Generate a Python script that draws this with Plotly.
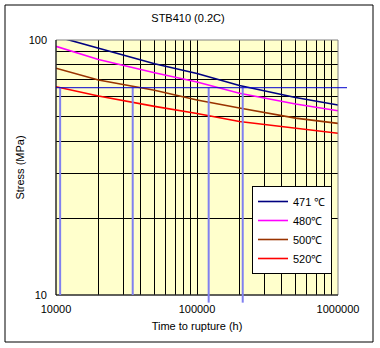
import math
import plotly.graph_objects as go

# ---- data ----
times = [10000, 20000, 50000, 100000, 200000, 500000, 1000000]
s471 = [103.3, 92.6, 80.7, 73.9, 66.3, 59.5, 55.6]
s480 = [94.4, 83.8, 74.4, 68.4, 61.8, 56.1, 52.8]
s500 = [77.5, 69.7, 63.5, 58.2, 54.1, 49.4, 47.1]
s520 = [65.6, 60.3, 54.9, 51.5, 47.9, 45.2, 43.1]
series_names = ["471 ℃", "480℃", "500℃", "520℃"]
series_colors = ["#000080", "#FF00FF", "#993300", "#FF0000"]

ref_stress = 65
cross_times = [10700, 35000, 121000, 211000]
cross_extend = [False, False, True, True]

x_tickvals = [m * 10 ** e for e in (4, 5) for m in range(1, 10)] + [1000000]
x_ticktext = [("%d" % v) if v in (10000, 100000, 1000000) else "" for v in x_tickvals]
y_tickvals = list(range(10, 101, 10))
y_ticktext = [("%d" % v) if v in (10, 100) else "" for v in y_tickvals]

W, H = 380, 348
L, R, T, B = 56, 42, 40, 53
pw, ph = W - L - R, H - T - B

def px_x(p):
    return (p - L) / pw

def px_y(p):
    return (H - B - p) / ph

font = dict(family="Liberation Sans, Arial, sans-serif", size=11, color="black")

fig = go.Figure()
for name, vals, col in zip(series_names, [s471, s480, s500, s520], series_colors):
    fig.add_trace(go.Scatter(x=times, y=vals, mode="lines", name=name,
                             line=dict(color=col, width=1.6)))

shapes = []
# outer frame
shapes.append(dict(type="rect", xref="paper", yref="paper",
                   x0=px_x(5), x1=px_x(373), y0=px_y(342), y1=px_y(5),
                   line=dict(color="black", width=1), layer="below"))
# plot area border (gray) and black axes
shapes.append(dict(type="rect", xref="paper", yref="paper", x0=0, x1=1, y0=0, y1=1,
                   line=dict(color="#808080", width=1)))
shapes.append(dict(type="line", xref="paper", yref="paper", x0=0, x1=0, y0=0, y1=1,
                   line=dict(color="black", width=1)))
shapes.append(dict(type="line", xref="paper", yref="paper", x0=0, x1=1, y0=0, y1=0,
                   line=dict(color="black", width=1)))
# vertical reference lines
ylog_lo, ylog_hi = 1, 2
y_ref_paper = (math.log10(ref_stress) - ylog_lo) / (ylog_hi - ylog_lo)
for t, ext in zip(cross_times, cross_extend):
    shapes.append(dict(type="line", xref="x", yref="paper", x0=t, x1=t,
                       y0=(-0.03 if ext else 0), y1=y_ref_paper,
                       line=dict(color="#8080F0", width=2)))
# horizontal reference line
shapes.append(dict(type="line", xref="paper", yref="y", x0=0, x1=px_x(347),
                   y0=ref_stress, y1=ref_stress, line=dict(color="#0000CC", width=1)))

fig.update_layout(
    width=W, height=H, margin=dict(l=L, r=R, t=T, b=B, autoexpand=False),
    paper_bgcolor="white", plot_bgcolor="#FFFFCC",
    font=font,
    title=dict(text="STB410 (0.2C)", x=188 / W, xref="container", xanchor="center",
               y=1 - 18 / H, yref="container", yanchor="middle", font=font),
    xaxis=dict(type="log", range=[4, 6], tickvals=x_tickvals, ticktext=x_ticktext,
               showgrid=True, gridcolor="black", gridwidth=1, ticks="", showline=False,
               zeroline=False, tickfont=font, ticklabelstandoff=6,
               title=dict(text="Time to rupture (h)", font=font, standoff=8)),
    yaxis=dict(type="log", range=[1, 2], tickvals=y_tickvals, ticktext=y_ticktext,
               showgrid=True, gridcolor="black", gridwidth=1, ticks="", showline=False,
               zeroline=False, tickfont=font, ticklabelstandoff=8,
               title=dict(text="Stress (MPa)", font=font, standoff=1)),
    legend=dict(x=px_x(252), y=px_y(186), xanchor="left", yanchor="top",
                bgcolor="white", bordercolor="black", borderwidth=1,
                font=font, itemwidth=30, tracegroupgap=0),
    shapes=shapes,
    showlegend=True,
)

fig.write_html("out.html")
